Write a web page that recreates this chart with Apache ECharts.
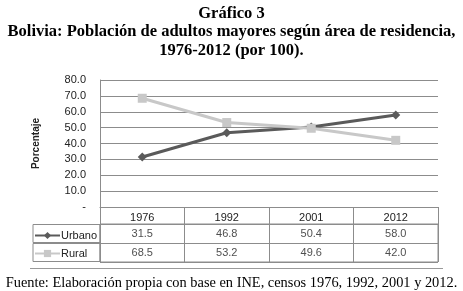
<!DOCTYPE html>
<html>
<head>
<meta charset="utf-8">
<script src="https://cdn.jsdelivr.net/npm/echarts@6/dist/echarts.min.js"></script>
<style>
  html, body { margin: 0; padding: 0; background: #fff; }
  #chart { width: 463px; height: 291px; }
</style>
</head>
<body>
<div id="chart"></div>
<script>
// datos del gráfico
var years = ['1976', '1992', '2001', '2012']
var urbano = [31.5, 46.8, 50.4, 58.0]
var rural = [68.5, 53.2, 49.6, 42.0]
var rows = ['Urbano', 'Rural']
var yTicks = [0, 10, 20, 30, 40, 50, 60, 70, 80]

var sans = 'Liberation Sans, Arial, sans-serif'
var serif = 'Liberation Serif, Times New Roman, serif'

// celdas de la tabla: [columna, fila, valor]
var cells = []
years.forEach(function (y, i) {
    cells.push([i, 0, urbano[i]])
    cells.push([i, 1, rural[i]])
})

var myChart = echarts.init(document.getElementById('chart'))
myChart.setOption({
    animation: false,
    title: [{
        text: 'Gráfico 3\nBolivia: Población de adultos mayores según área de residencia,\n1976-2012 (por 100).',
        left: 'center',
        top: 4,
        padding: 0,
        textStyle: { fontFamily: serif, fontSize: 16.5, fontWeight: 'bold', color: '#000', lineHeight: 18.7 }
    }, {
        text: 'Fuente: Elaboración propia con base en INE, censos 1976, 1992, 2001 y 2012.',
        left: 'center',
        top: 276,
        padding: 0,
        textStyle: { fontFamily: serif, fontSize: 14.4, fontWeight: 'normal', color: '#000' }
    }],
    legend: {
        data: ['Urbano', 'Rural'],
        orient: 'vertical',
        left: 34,
        top: 230,
        padding: 0,
        itemWidth: 25,
        itemHeight: 9,
        itemGap: 7,
        selectedMode: false,
        textStyle: { fontFamily: sans, fontSize: 11, color: '#222', padding: [0, 0, 0, -4] }
    },
    grid: [
        { left: 100, right: 25, top: 80, bottom: 84 },
        { left: 100, right: 25, top: 224, bottom: 29, show: true, borderColor: '#8c8c8c', borderWidth: 1 }
    ],
    xAxis: [{
        gridIndex: 0,
        type: 'category',
        data: years,
        boundaryGap: true,
        axisLine: { show: true, lineStyle: { color: '#8c8c8c', width: 1 } },
        axisTick: { show: true, interval: 0, length: 17, lineStyle: { color: '#8c8c8c' } },
        axisLabel: { margin: 5, fontFamily: sans, fontSize: 11, color: '#222' }
    }, {
        gridIndex: 1,
        type: 'category',
        data: years,
        boundaryGap: true,
        axisLine: { show: false },
        axisTick: { show: false },
        axisLabel: { show: false },
        splitLine: { show: true, interval: 0, lineStyle: { color: '#8c8c8c', width: 1 } }
    }],
    yAxis: [{
        gridIndex: 0,
        type: 'value',
        min: 0,
        max: 80,
        interval: 10,
        name: 'Porcentaje',
        nameLocation: 'middle',
        nameRotate: 90,
        nameGap: 59,
        nameTextStyle: { fontFamily: sans, fontSize: 10, fontWeight: 'bold', color: '#222' },
        axisLine: { show: true, lineStyle: { color: '#8c8c8c', width: 1 } },
        axisTick: { show: false },
        axisLabel: {
            margin: 14,
            fontFamily: sans,
            fontSize: 11,
            color: '#222',
            formatter: function (v) { return v === 0 ? '-' : v.toFixed(1) }
        },
        splitLine: { show: true, lineStyle: { color: '#8c8c8c', width: 1 } }
    }, {
        gridIndex: 1,
        type: 'category',
        data: rows,
        inverse: true,
        axisLine: { show: false },
        axisTick: { show: false },
        splitLine: { show: true, interval: 0, lineStyle: { color: '#8c8c8c', width: 1 } },
        axisLabel: {
            margin: 0,
            formatter: function () { return '{b|}' },
            rich: { b: { width: 67, height: 18, borderColor: '#8c8c8c', borderWidth: 1 } }
        }
    }],
    series: [{
        name: 'Urbano',
        type: 'line',
        xAxisIndex: 0,
        yAxisIndex: 0,
        data: urbano,
        symbol: 'diamond',
        symbolSize: 9,
        lineStyle: { color: '#5a5a5a', width: 3 },
        itemStyle: { color: '#5a5a5a' }
    }, {
        name: 'Rural',
        type: 'line',
        xAxisIndex: 0,
        yAxisIndex: 0,
        data: rural,
        symbol: 'rect',
        symbolSize: 9,
        lineStyle: { color: '#c8c8c8', width: 3 },
        itemStyle: { color: '#c8c8c8' }
    }, {
        name: 'tabla',
        type: 'scatter',
        xAxisIndex: 1,
        yAxisIndex: 1,
        data: cells,
        symbolSize: 0,
        silent: true,
        label: {
            show: true,
            position: 'inside',
            fontFamily: sans,
            fontSize: 11,
            color: '#222',
            formatter: function (p) { return p.value[2].toFixed(1) }
        }
    }],
    graphic: [{
        type: 'line',
        shape: { x1: 30, y1: 268.5, x2: 443, y2: 268.5 },
        style: { stroke: '#999', lineWidth: 1 }
    }]
})
window.addEventListener('resize', myChart.resize)
</script>
</body>
</html>
